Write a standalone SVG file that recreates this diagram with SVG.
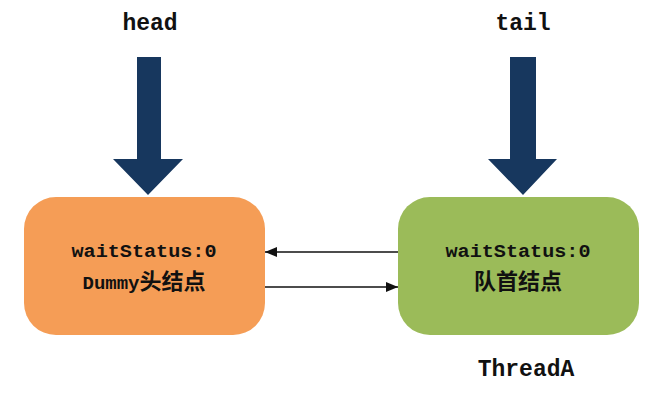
<svg xmlns="http://www.w3.org/2000/svg" width="671" height="400" viewBox="0 0 671 400">
<defs>
<style>
.lbl{font-family:"Liberation Mono","Noto Sans CJK SC",monospace;font-weight:bold;fill:#111;text-anchor:middle}
.big{font-size:23px}
.in{font-size:19px}
.cjk{font-family:"Noto Sans CJK SC",sans-serif;font-size:22px;font-weight:bold}
.ptr{fill:#17375E}
.link{stroke:#111;stroke-width:1.6;fill:none}
</style>
<marker id="ah" viewBox="0 0 12 10" refX="12" refY="5" markerWidth="12" markerHeight="10" markerUnits="userSpaceOnUse" orient="auto">
<path d="M0,0 L12,5 L0,10 Z" fill="#111"/>
</marker>
</defs>
<rect width="671" height="400" fill="#fff"/>
<g id="head">
<text class="lbl big" x="150" y="30">head</text>
<path class="ptr" d="M137,57 H161 V159 H183 L148,195 L113,159 H137 Z"/>
</g>
<g id="tail">
<text class="lbl big" x="523" y="30">tail</text>
<path class="ptr" d="M510,57 H536 V159 H557 L523,195 L488,159 H510 Z"/>
</g>
<g id="dummy">
<rect x="24" y="197" width="241" height="138" rx="32" fill="#F59D56"/>
<text class="lbl in" x="144" y="257" textLength="145" lengthAdjust="spacingAndGlyphs">waitStatus:0</text>
<text class="lbl in" x="144" y="289">Dummy<tspan class="cjk">头结点</tspan></text>
</g>
<g id="threadA">
<rect x="398" y="197" width="241" height="138" rx="32" fill="#9BBB59"/>
<text class="lbl in" x="518" y="257" textLength="145" lengthAdjust="spacingAndGlyphs">waitStatus:0</text>
<text class="lbl in" x="518" y="289"><tspan class="cjk">队首结点</tspan></text>
<text class="lbl big" x="526" y="376">ThreadA</text>
</g>
<g id="connectors">
<line class="link" x1="398" y1="252" x2="265" y2="252" marker-end="url(#ah)"/>
<line class="link" x1="265" y1="287" x2="398" y2="287" marker-end="url(#ah)"/>
</g>
</svg>
